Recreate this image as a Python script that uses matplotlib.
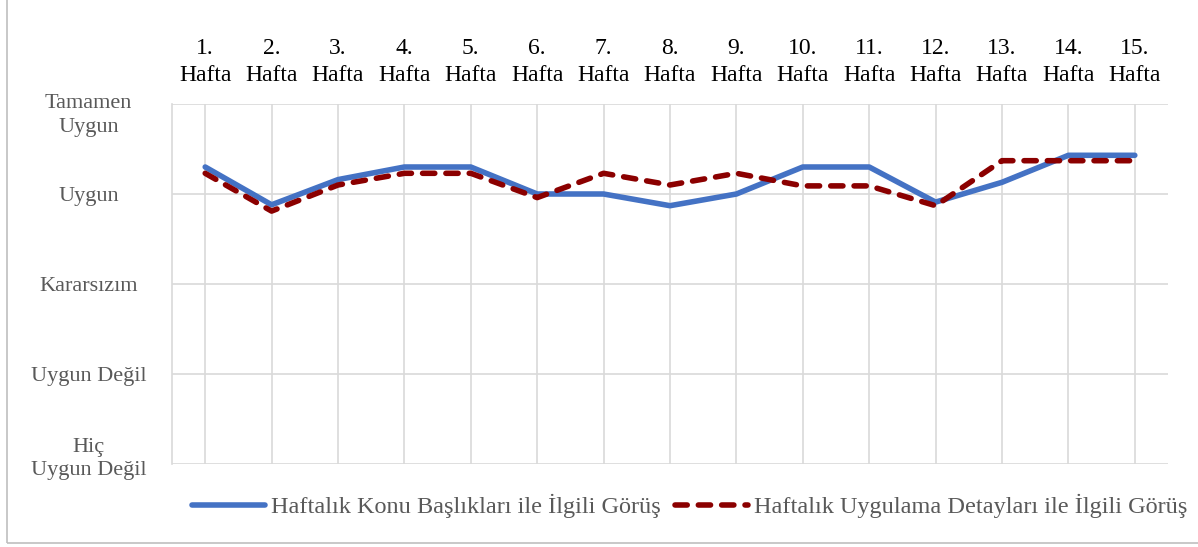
import matplotlib.pyplot as plt
from matplotlib.patches import Rectangle
from matplotlib.transforms import ScaledTranslation

weeks = [f"{i}.\nHafta" for i in range(1, 16)]
konu = [4.30, 3.88, 4.16, 4.30, 4.30, 4.00, 4.00, 3.87, 4.00, 4.30, 4.30, 3.91, 4.13, 4.43, 4.43]
uygulama = [4.23, 3.81, 4.10, 4.23, 4.23, 3.96, 4.23, 4.10, 4.23, 4.09, 4.09, 3.87, 4.37, 4.37, 4.37]
y_labels = ["Hiç\nUygun Değil", "Uygun Değil", "Kararsızım", "Uygun", "Tamamen\nUygun"]
series_names = ["Haftalık Konu Başlıkları ile İlgili Görüş",
                "Haftalık Uygulama Detayları ile İlgili Görüş"]

plt.rcParams['font.family'] = ['Liberation Serif', 'DejaVu Serif']

fig = plt.figure(figsize=(11.98, 5.47), dpi=100)
ax = fig.add_axes([172 / 1198, 83 / 547, 996 / 1198, 360 / 547])

x = list(range(1, 16))
ax.plot(x, konu, color='#4472C4', lw=4, solid_capstyle='round', label=series_names[0], zorder=3)
ax.plot(x, uygulama, color='#8B0000', lw=4, linestyle=(0, (2.2, 2.0)),
        dash_capstyle='round', label=series_names[1], zorder=4)

ax.set_xlim(0.5, 15.5)
ax.set_ylim(1, 5)
ax.set_xticks(x)
ax.set_xticklabels(weeks, fontsize=17, color='black', linespacing=1.4)
ax.xaxis.tick_top()
ax.set_yticks([1, 2, 3, 4, 5])
ax.set_yticklabels(y_labels, fontsize=16, color='#595959', ha='center', linespacing=1.3)
ax.tick_params(axis='y', length=0, pad=60)
ax.tick_params(axis='x', length=0, pad=13)

# multi-line labels at the ends are pushed inside, like in the original
ylabs = ax.get_yticklabels()
ylabs[0].set_transform(ylabs[0].get_transform() + ScaledTranslation(0, 7 / 72, fig.dpi_scale_trans))
ylabs[-1].set_transform(ylabs[-1].get_transform() + ScaledTranslation(0, -5 / 72, fig.dpi_scale_trans))

ax.grid(True, color='#D9D9D9', lw=1.2)
ax.set_axisbelow(True)
for s in ['top', 'right', 'bottom']:
    ax.spines[s].set_visible(False)
ax.spines['left'].set_color('#D9D9D9')
ax.spines['left'].set_linewidth(1.2)

leg = fig.legend(loc='center', bbox_to_anchor=(690 / 1198, 1 - 506 / 547), ncol=2, frameon=False,
                 fontsize=17.5, handlelength=3.0, handletextpad=0.25, columnspacing=0.6)
for t in leg.get_texts():
    t.set_color('#595959')

fig.patches.append(Rectangle((7 / 1198, 4 / 547), 1.2, 1.2, transform=fig.transFigure,
                             fill=False, edgecolor='#BFBFBF', lw=1.2))

fig.savefig('out.png', dpi=100)
